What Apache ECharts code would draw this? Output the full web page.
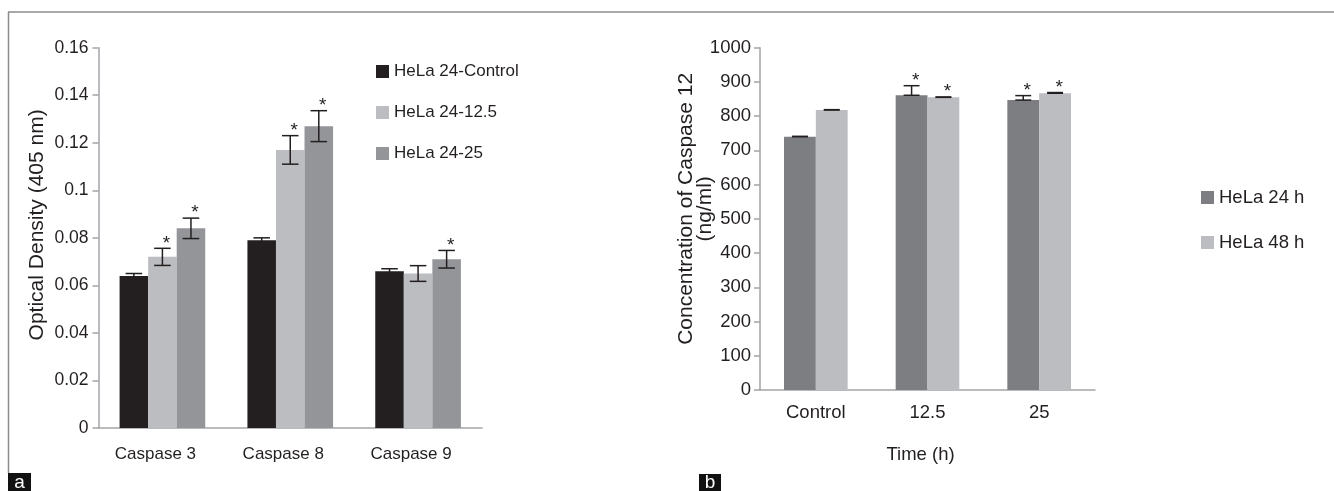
<!DOCTYPE html>
<html>
<head>
<meta charset="utf-8">
<script src="https://cdn.jsdelivr.net/npm/echarts@6/dist/echarts.min.js"></script>
<style>
html,body{margin:0;padding:0;background:#fff;}
#c{width:1334px;height:491px;}
</style>
</head>
<body>
<div id="c"></div>
<script>
// ---- Panel a data ----
const leftCategories = ['Caspase 3', 'Caspase 8', 'Caspase 9'];
const leftSeriesNames = ['HeLa 24-Control', 'HeLa 24-12.5', 'HeLa 24-25'];
const leftControl = [0.064, 0.079, 0.066];
const left125 = [0.072, 0.117, 0.065];
const left25 = [0.084, 0.127, 0.071];
const leftControlErr = [0.001, 0.001, 0.001];
const left125Err = [0.0036, 0.006, 0.0033];
const left25Err = [0.0043, 0.0065, 0.0037];
const leftControlSig = [false, false, false];
const left125Sig = [true, true, false];
const left25Sig = [true, true, true];
const leftYTicks = [0, 0.02, 0.04, 0.06, 0.08, 0.1, 0.12, 0.14, 0.16];

// ---- Panel b data ----
const rightCategories = ['Control', '12.5', '25'];
const rightSeriesNames = ['HeLa 24 h', 'HeLa 48 h'];
const right24 = [740, 861, 847];
const right48 = [818, 855, 867];
const right24Err = [1, 28, 13];
const right48Err = [1, 1, 2];
const right24Sig = [false, true, true];
const right48Sig = [false, true, true];
const rightYTicks = [0, 100, 200, 300, 400, 500, 600, 700, 800, 900, 1000];

const FONT = 'Liberation Sans, Arial, sans-serif';
const TXT = '#231f20';
const AXIS = '#a3a5a8';
const leftColors = ['#231f20', '#bcbdc1', '#939598'];
const rightColors = ['#7d7e82', '#bcbdc1'];
const LEFT_GAP = 0.33, RIGHT_GAP = 0.43;
const FS_L = 17, FS_R = 18.5, FS_T = 21;

function errSeries(name, gridIdx, values, errs, sigs, idx, n, gapFrac, plusOnly, capFrac) {
  const data = values.map((v, i) => [i, v, errs[i], sigs[i] ? 1 : 0]);
  return {
    type: 'custom', name: name + ' err', xAxisIndex: gridIdx, yAxisIndex: gridIdx,
    z: 5, silent: true, data: data,
    renderItem: function (params, api) {
      const ci = api.value(0), v = api.value(1), e = api.value(2), s = api.value(3);
      const band = api.size([1, 0])[0];
      const bw = band * (1 - gapFrac) / n;
      const off = (idx - (n - 1) / 2) * bw;
      const base = api.coord([ci, v]);
      const x = base[0] + off;
      const top = api.coord([ci, v + e])[1];
      const bot = plusOnly ? base[1] : api.coord([ci, v - e])[1];
      const cap = bw * capFrac;
      const st = { stroke: TXT, lineWidth: 1.5 };
      const ch = [
        { type: 'line', shape: { x1: x, y1: top, x2: x, y2: bot }, style: st },
        { type: 'line', shape: { x1: x - cap, y1: top, x2: x + cap, y2: top }, style: st },
        { type: 'line', shape: { x1: x - cap, y1: bot, x2: x + cap, y2: bot }, style: st }
      ];
      if (s) {
        ch.push({ type: 'text', x: x + 4, y: top - 5,
          style: { text: '*', fill: TXT, font: '19px ' + FONT, align: 'center', verticalAlign: 'middle' } });
      }
      return { type: 'group', children: ch };
    }
  };
}

const chart = echarts.init(document.getElementById('c'), null, { renderer: 'canvas' });

const axisLineStyle = { lineStyle: { color: AXIS, width: 1.5 } };

const option = {
  animation: false,
  textStyle: { fontFamily: FONT, color: TXT },
  grid: [
    { left: 98.5, right: 852, top: 47.7, bottom: 63, containLabel: false },
    { left: 760, right: 239, top: 47.7, bottom: 101, containLabel: false }
  ],
  legend: [
    { data: leftSeriesNames, orient: 'vertical', left: 371, top: 58, itemWidth: 13, itemHeight: 13,
      itemGap: 24, icon: 'rect', textStyle: { fontSize: FS_L, color: TXT, fontFamily: FONT } },
    { data: rightSeriesNames, orient: 'vertical', left: 1196, top: 183, itemWidth: 13, itemHeight: 13,
      itemGap: 26, icon: 'rect', textStyle: { fontSize: FS_R, color: TXT, fontFamily: FONT } }
  ],
  xAxis: [
    { type: 'category', gridIndex: 0, data: leftCategories,
      axisLine: axisLineStyle, axisTick: { length: 9, lineStyle: { color: AXIS, width: 1.5 } },
      axisLabel: { fontSize: FS_L, color: TXT, margin: 18, fontFamily: FONT, padding: [0, 14, 0, 0] } },
    { type: 'category', gridIndex: 1, data: rightCategories,
      name: 'Time (h)', nameLocation: 'middle', nameGap: 55, nameMoveOverlap: false,
      nameTextStyle: { fontSize: FS_R, color: TXT, fontFamily: FONT, padding: [0, 14, 0, 0] },
      axisLine: axisLineStyle, axisTick: { length: 9, lineStyle: { color: AXIS, width: 1.5 } },
      axisLabel: { fontSize: FS_R, color: TXT, margin: 13, fontFamily: FONT } }
  ],
  yAxis: [
    { type: 'value', gridIndex: 0, min: leftYTicks[0], max: leftYTicks[leftYTicks.length - 1], interval: 0.02,
      name: 'Optical Density (405 nm)', nameLocation: 'middle', nameGap: 51, nameRotate: 90, nameMoveOverlap: false,
      nameTextStyle: { fontSize: FS_T, color: TXT, fontFamily: FONT, lineHeight: 21, padding: [0, 0, 0, 26] },
      axisLine: { show: true, lineStyle: { color: AXIS, width: 1.5 } },
      axisTick: { show: true, length: 6, lineStyle: { color: AXIS, width: 1.5 } },
      splitLine: { show: false },
      axisLabel: { fontSize: FS_L + 0.5, color: TXT, margin: 10, fontFamily: FONT,
        formatter: v => String(Math.round(v * 100) / 100) } },
    { type: 'value', gridIndex: 1, min: rightYTicks[0], max: rightYTicks[rightYTicks.length - 1], interval: 100,
      name: 'Concentration of Caspase 12\n(ng/ml)', nameLocation: 'middle', nameGap: 46, nameRotate: 90, nameMoveOverlap: false,
      nameTextStyle: { fontSize: FS_T, color: TXT, fontFamily: FONT, lineHeight: 18.5, padding: [0, 0, 0, 20] },
      axisLine: { show: true, lineStyle: { color: AXIS, width: 1.5 } },
      axisTick: { show: true, length: 6, lineStyle: { color: AXIS, width: 1.5 } },
      splitLine: { show: false },
      axisLabel: { fontSize: FS_R, color: TXT, margin: 9, fontFamily: FONT, formatter: v => String(v) } }
  ],
  series: [
    { type: 'bar', name: leftSeriesNames[0], xAxisIndex: 0, yAxisIndex: 0, data: leftControl,
      itemStyle: { color: leftColors[0] }, barGap: '0%', barCategoryGap: (LEFT_GAP * 100) + '%' },
    { type: 'bar', name: leftSeriesNames[1], xAxisIndex: 0, yAxisIndex: 0, data: left125,
      itemStyle: { color: leftColors[1] }, barGap: '0%', barCategoryGap: (LEFT_GAP * 100) + '%' },
    { type: 'bar', name: leftSeriesNames[2], xAxisIndex: 0, yAxisIndex: 0, data: left25,
      itemStyle: { color: leftColors[2] }, barGap: '0%', barCategoryGap: (LEFT_GAP * 100) + '%' },
    { type: 'bar', name: rightSeriesNames[0], xAxisIndex: 1, yAxisIndex: 1, data: right24,
      itemStyle: { color: rightColors[0] }, barGap: '0%', barCategoryGap: (RIGHT_GAP * 100) + '%' },
    { type: 'bar', name: rightSeriesNames[1], xAxisIndex: 1, yAxisIndex: 1, data: right48,
      itemStyle: { color: rightColors[1] }, barGap: '0%', barCategoryGap: (RIGHT_GAP * 100) + '%' },
    errSeries(leftSeriesNames[0], 0, leftControl, leftControlErr, leftControlSig, 0, 3, LEFT_GAP, false, 0.29),
    errSeries(leftSeriesNames[1], 0, left125, left125Err, left125Sig, 1, 3, LEFT_GAP, false, 0.29),
    errSeries(leftSeriesNames[2], 0, left25, left25Err, left25Sig, 2, 3, LEFT_GAP, false, 0.29),
    errSeries(rightSeriesNames[0], 1, right24, right24Err, right24Sig, 0, 2, RIGHT_GAP, true, 0.25),
    errSeries(rightSeriesNames[1], 1, right48, right48Err, right48Sig, 1, 2, RIGHT_GAP, true, 0.25)
  ],
  graphic: [
    { type: 'line', shape: { x1: 8, y1: 12, x2: 1334, y2: 12 }, style: { stroke: '#8c8c8c', lineWidth: 1.5 } },
    { type: 'line', shape: { x1: 8.5, y1: 12, x2: 8.5, y2: 473 }, style: { stroke: '#8c8c8c', lineWidth: 1.5 } },
    { type: 'rect', shape: { x: 8, y: 473, width: 23, height: 18 }, style: { fill: '#111' } },
    { type: 'text', x: 19.5, y: 483, style: { text: 'a', fill: '#fff', font: '19px ' + FONT, align: 'center', verticalAlign: 'middle' } },
    { type: 'rect', shape: { x: 699, y: 474, width: 22, height: 17 }, style: { fill: '#111' } },
    { type: 'text', x: 710, y: 483, style: { text: 'b', fill: '#fff', font: '19px ' + FONT, align: 'center', verticalAlign: 'middle' } }
  ]
};
chart.setOption(option);
</script>
</body>
</html>
